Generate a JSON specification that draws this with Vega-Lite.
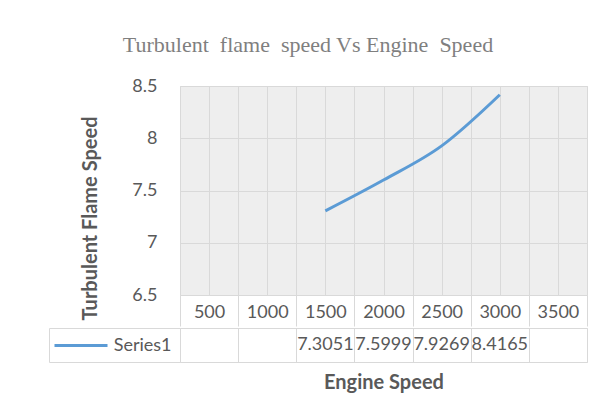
{
  "$schema": "https://vega.github.io/schema/vega-lite/v6.json",
  "background": "white",
  "autosize": {"type": "pad"},
  "padding": {"left": 48, "top": 33, "right": 10, "bottom": 10},
  "title": {
    "text": "Turbulent\u00a0 flame\u00a0 speed Vs Engine\u00a0 Speed",
    "font": "Liberation Serif",
    "fontSize": 22,
    "fontWeight": "normal",
    "color": "#7f7f7f",
    "anchor": "middle",
    "offset": 20,
    "dx": -10
  },
  "datasets": {
    "speed": [
      {"engine_speed": 1500, "flame_speed": 7.3051},
      {"engine_speed": 2000, "flame_speed": 7.5999},
      {"engine_speed": 2500, "flame_speed": 7.9269},
      {"engine_speed": 3000, "flame_speed": 8.4165}
    ]
  },
  "spacing": 0,
  "vconcat": [
    {
      "width": 407,
      "height": 209,
      "view": {"fill": "#eeeeee", "stroke": "#d9d9d9"},
      "data": {"name": "speed"},
      "mark": {"type": "line", "interpolate": "monotone", "color": "#5B9BD5", "strokeWidth": 3},
      "encoding": {
        "x": {
          "field": "engine_speed",
          "type": "quantitative",
          "scale": {"domain": [250, 3750], "nice": false, "zero": false},
          "axis": {
            "values": [250, 500, 750, 1000, 1250, 1500, 1750, 2000, 2250, 2500, 2750, 3000, 3250, 3500, 3750],
            "title": null,
            "grid": true,
            "gridColor": "#d9d9d9",
            "gridWidth": 1,
            "domain": false,
            "ticks": true,
            "tickSize": 31,
            "tickColor": "#d9d9d9",
            "tickOpacity": {"condition": {"test": "datum.value % 500 === 250", "value": 1}, "value": 0},
            "labelExpr": "datum.value % 500 === 0 ? '' + datum.value : ''",
            "labelFont": "Lato",
            "labelFontSize": 18,
            "labelColor": "#595959",
            "labelBaseline": "middle",
            "labelPadding": -14,
            "labelOverlap": false,
            "labelFlush": false,
            "labelBound": false
          }
        },
        "y": {
          "field": "flame_speed",
          "type": "quantitative",
          "scale": {"domain": [6.5, 8.5], "nice": false, "zero": false},
          "axis": {
            "values": [6.5, 7, 7.5, 8, 8.5],
            "format": ".1~f",
            "title": "Turbulent Flame Speed",
            "titleFont": "Lato",
            "titleFontSize": 20,
            "titleFontWeight": "bold",
            "titleColor": "#595959",
            "titleX": -80,
            "titleY": 132,
            "grid": true,
            "gridColor": "#d9d9d9",
            "domain": false,
            "ticks": false,
            "labelPadding": 23,
            "labelFont": "Lato",
            "labelFontSize": 18,
            "labelColor": "#595959"
          }
        }
      }
    },
    {
      "width": 407,
      "height": 34,
      "view": {"stroke": "#d9d9d9"},
      "data": {"name": "speed"},
      "resolve": {"axis": {"y": "independent"}},
      "layer": [
        {
          "mark": {"type": "text", "font": "Lato", "fontSize": 18, "color": "#595959", "baseline": "middle", "align": "center"},
          "encoding": {
            "x": {
              "field": "engine_speed",
              "type": "quantitative",
              "scale": {"domain": [250, 3750], "nice": false, "zero": false},
              "axis": {
                "values": [250, 750, 1250, 1750, 2250, 2750, 3250, 3750],
                "grid": true,
                "gridColor": "#d9d9d9",
                "ticks": false,
                "labels": false,
                "domain": false,
                "title": "Engine Speed",
                "titleFont": "Lato",
                "titleFontSize": 20,
                "titleFontWeight": "bold",
                "titleColor": "#595959",
                "titlePadding": 10
              }
            },
            "y": {
              "datum": 0.5,
              "type": "quantitative",
              "scale": {"domain": [0, 1], "nice": false, "zero": false},
              "axis": {
                "orient": "left",
                "values": [0, 1],
                "ticks": true,
                "tickSize": 131,
                "tickColor": "#d9d9d9",
                "labels": false,
                "domain": false,
                "grid": false,
                "title": null
              }
            },
            "text": {"field": "flame_speed", "type": "quantitative", "format": ".4f"}
          }
        },
        {
          "mark": {"type": "text"},
          "encoding": {
            "y": {
              "datum": 0.5,
              "type": "quantitative",
              "axis": {
                "orient": "left",
                "values": [0.5],
                "labelExpr": "'Series1'",
                "ticks": false,
                "domain": false,
                "grid": false,
                "labelPadding": 9,
                "labelFont": "Lato",
                "labelFontSize": 18,
                "labelColor": "#595959",
                "title": null
              }
            },
            "text": {"value": ""}
          }
        },
        {
          "mark": {"type": "text"},
          "encoding": {
            "y": {
              "datum": 0.5,
              "type": "quantitative",
              "axis": {
                "orient": "left",
                "values": [0.5],
                "labels": false,
                "ticks": true,
                "tickSize": 53,
                "tickWidth": 3,
                "tickColor": "#5B9BD5",
                "offset": 73,
                "domain": false,
                "grid": false,
                "title": null
              }
            },
            "text": {"value": ""}
          }
        },
        {
          "mark": {"type": "text"},
          "encoding": {
            "y": {
              "datum": 0.5,
              "type": "quantitative",
              "axis": {
                "orient": "left",
                "values": [0],
                "labels": false,
                "ticks": false,
                "domain": true,
                "domainColor": "#d9d9d9",
                "offset": 131,
                "grid": false,
                "title": null
              }
            },
            "text": {"value": ""}
          }
        }
      ]
    }
  ]
}
